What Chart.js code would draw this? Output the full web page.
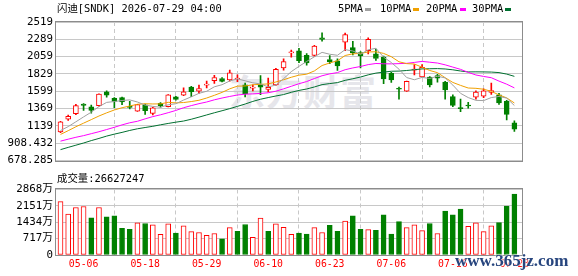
<!DOCTYPE html>
<html><head><meta charset="utf-8">
<script src="https://cdn.jsdelivr.net/npm/chart.js@4.4.1/dist/chart.umd.min.js"></script>
<style>
html,body{margin:0;padding:0;background:#fff;width:578px;height:276px;overflow:hidden;position:relative;}
canvas{position:absolute;left:0;}
.t{position:absolute;white-space:nowrap;font-family:"DejaVu Sans Mono","Noto Sans CJK SC",monospace;font-size:10.4px;color:#000;line-height:12px;}
.sw{position:absolute;width:6px;height:3px;}
.wm{position:absolute;left:229px;top:70px;font-family:"Noto Sans CJK SC";font-weight:700;font-size:36px;line-height:40px;color:#e6e6eb;letter-spacing:1px;white-space:nowrap;}
.site{position:absolute;left:455px;top:252px;font-family:"Liberation Serif",serif;font-weight:700;font-size:17px;line-height:18px;color:#27457e;white-space:nowrap;text-shadow:0 0 2px #fff,0 0 2px #fff;}
</style></head>
<body>
<div class="wm">东方财富</div>
<canvas id="price" width="578" height="170" style="top:0px"></canvas>
<canvas id="vol" width="578" height="96" style="top:180px"></canvas>
<div class="t" style="left:57px;top:2px">闪迪[SNDK] 2026-07-29 04:00</div>
<div class="t" style="left:338px;top:2px">5PMA</div><div class="sw" style="left:365px;top:8px;background:#a0a0a0"></div>
<div class="t" style="left:380px;top:2px">10PMA</div><div class="sw" style="left:413px;top:8px;background:#f0a000"></div>
<div class="t" style="left:426px;top:2px">20PMA</div><div class="sw" style="left:460px;top:8px;background:#ff00ff"></div>
<div class="t" style="left:472px;top:2px">30PMA</div><div class="sw" style="left:505px;top:8px;background:#007030"></div>
<div class="t" style="left:57px;top:172px">成交量:26627247</div>
<div class="site">www.365jz.com</div>
<script>
// ---- data ----
const dates = ['05-01','05-04','05-05','05-06','05-07','05-08','05-11','05-12','05-13','05-14','05-15','05-18','05-19','05-20','05-21','05-22','05-26','05-27','05-28','05-29','06-01','06-02','06-03','06-04','06-05','06-08','06-09','06-10','06-11','06-12','06-15','06-16','06-17','06-18','06-22','06-23','06-24','06-25','06-26','06-29','06-30','07-01','07-02','07-06','07-07','07-08','07-09','07-10','07-13','07-14','07-15','07-16','07-17','07-20','07-21','07-22','07-23','07-24','07-27','07-28'];
const open  = [1060,1228,1300,1430,1393,1408,1592,1506,1515,1394,1335,1419,1305,1438,1395,1524,1547,1653,1599,1680,1738,1769,1751,1762,1683,1640,1695,1622,1683,1910,2110,2137,2078,2075,2310,2021,2004,2253,2178,2114,2137,2095,2052,1837,1635,1601,1880,1790,1786,1807,1721,1528,1377,1412,1519,1532,1584,1550,1464,1180];
const high  = [1200,1283,1425,1435,1416,1565,1605,1515,1522,1464,1425,1429,1385,1450,1555,1530,1644,1663,1680,1734,1811,1780,1880,1818,1708,1683,1807,1773,1902,2030,2146,2168,2100,2211,2374,2073,2030,2372,2262,2125,2310,2159,2065,1850,1653,1735,1953,1953,1795,1824,1730,1550,1496,1451,1605,1631,1708,1573,1477,1206];
const low   = [1050,1210,1287,1345,1309,1400,1519,1380,1419,1365,1330,1292,1283,1386,1390,1480,1541,1528,1570,1644,1702,1722,1734,1728,1522,1605,1554,1589,1675,1880,2052,1979,1946,2065,2266,1966,1876,2137,2082,1910,2095,2008,1699,1717,1493,1598,1815,1785,1657,1721,1493,1393,1328,1374,1493,1515,1558,1425,1219,1065];
const close = [1193,1267,1408,1412,1344,1560,1547,1464,1458,1385,1421,1341,1380,1403,1550,1489,1590,1593,1635,1690,1782,1730,1843,1770,1567,1645,1653,1650,1889,1992,2115,2004,1975,2198,2288,1988,1936,2352,2107,2069,2288,2034,1764,1751,1625,1730,1890,1918,1683,1773,1618,1412,1367,1403,1589,1605,1609,1444,1292,1094];
const ma5  = [1077,1129,1193,1258,1321,1395,1451,1462,1476,1484,1456,1415,1398,1386,1419,1433,1482,1525,1571,1599,1658,1686,1736,1763,1738,1711,1696,1657,1681,1766,1860,1930,1995,2057,2116,2091,2077,2152,2134,2090,2150,2170,2052,1981,1892,1781,1752,1783,1769,1799,1776,1681,1571,1515,1478,1475,1515,1530,1508,1409];
const ma10 = [1025,1075,1127,1175,1222,1270,1312,1350,1380,1403,1426,1433,1430,1431,1452,1444,1449,1462,1479,1509,1545,1584,1631,1667,1669,1685,1691,1697,1722,1752,1785,1813,1826,1869,1941,1975,2004,2074,2096,2103,2121,2124,2102,2058,1991,1966,1961,1918,1875,1846,1779,1716,1677,1642,1638,1626,1598,1550,1511,1443];
const ma20 = [936,962,987,1009,1035,1061,1090,1120,1152,1180,1200,1232,1262,1286,1314,1344,1380,1408,1434,1456,1485,1509,1530,1549,1560,1564,1570,1579,1600,1631,1665,1699,1728,1768,1805,1830,1847,1885,1909,1928,1953,1968,1964,1963,1966,1970,1982,1996,1985,1974,1950,1920,1890,1850,1815,1796,1779,1734,1693,1644];
const ma30 = [823,853,882,911,943,972,1003,1029,1052,1078,1100,1117,1133,1153,1171,1188,1203,1227,1255,1284,1313,1340,1368,1398,1429,1464,1493,1515,1536,1555,1585,1610,1629,1656,1687,1701,1714,1744,1765,1788,1817,1840,1853,1865,1867,1875,1885,1896,1898,1900,1895,1884,1868,1856,1857,1856,1854,1847,1827,1797];
const volume = [2334,1786,2081,2123,1631,2081,1673,1715,1167,1125,1406,1378,1322,900,1364,956,1279,1026,984,858,942,703,1195,1040,1336,773,1617,1040,1364,1209,907,956,914,1195,984,1294,1040,1490,1715,1125,1111,1083,1758,914,1462,1195,1322,1069,1378,942,1926,1758,2011,1251,1406,1026,1279,1420,2137,2663];
const labelIdx = [3,11,19,27,35,43,51,59];
const priceTicks = [678.285,908.432,1138.579,1368.726,1598.873,1829.02,2059.167,2289.314,2519.461];
const priceTickLabels = ['678.285','908.432','1139','1369','1599','1829','2059','2289','2519'];
const volTicks = [0,717,1434,2151,2868];
const volTickLabels = ['0','717万','1434万','2151万','2868万'];

// ---- styling ----
const RED = '#ff0000', GREEN = '#008000';
const up = i => close[i] >= open[i];
const volUp = i => i === 0 ? up(0) : close[i] >= close[i-1];
const monoFont = '"DejaVu Sans Mono", monospace';
const X_MIN = -0.585, X_MAX = 59.99;

const framePlugin = {
  id: 'frame',
  afterDraw(chart) {
    const {ctx, chartArea: a} = chart;
    ctx.save();
    ctx.strokeStyle = '#8c8c8c';
    ctx.lineWidth = 1;
    ctx.strokeRect(Math.round(a.left) - 0.5, Math.round(a.top) - 0.5,
                   Math.round(a.right) - Math.round(a.left) + 1, Math.round(a.bottom) - Math.round(a.top) + 1);
    ctx.restore();
  }
};

function xScale(showLabels) {
  return {
    type: 'linear', min: X_MIN, max: X_MAX, offset: false,
    afterBuildTicks: s => { s.ticks = labelIdx.map(v => ({value: v})); },
    ticks: {
      display: showLabels, autoSkip: false, maxRotation: 0, padding: 4,
      color: RED, font: {family: monoFont, size: 9.8},
      callback: v => dates[v]
    },
    grid: {color: '#c8c8c8', lineWidth: 1, drawTicks: false},
    border: {display: false, dash: [4, 3]},
    afterFit: s => { s.height = showLabels ? 21 : 0; }
  };
}

function yScale(min, max, ticks, labels) {
  return {
    type: 'linear', min, max,
    afterBuildTicks: s => { s.ticks = ticks.map(v => ({value: v})); },
    ticks: {autoSkip: false, padding: 3, color: '#000', font: {family: monoFont + ', "Noto Sans CJK SC"', size: 10.8},
            callback: (v, i) => labels[i]},
    grid: {color: '#c8c8c8', lineWidth: 1, drawTicks: false},
    border: {display: false},
    afterFit: s => { s.width = 56; }
  };
}

const maLine = (label, arr, color) => ({
  type: 'line', label, data: arr.map((v, i) => ({x: i, y: v})),
  borderColor: color, borderWidth: 1, pointRadius: 0, tension: 0, fill: false, order: -1
});

new Chart(document.getElementById('price'), {
  type: 'bar',
  data: {
    datasets: [
      maLine('5PMA', ma5, '#a0a0a0'),
      maLine('10PMA', ma10, '#f0a000'),
      maLine('20PMA', ma20, '#ff00ff'),
      maLine('30PMA', ma30, '#007030'),
      {
        label: 'body', data: open.map((o, i) => ({x: i, y: [o, close[i]]})),
        backgroundColor: c => up(c.dataIndex) ? '#ffffff' : GREEN,
        borderColor: c => up(c.dataIndex) ? RED : GREEN,
        borderWidth: 1, borderSkipped: false, barThickness: 5, minBarLength: 1, grouped: false, order: 1
      },
      {
        label: 'wickLow', data: low.map((l, i) => ({x: i, y: [l, Math.min(open[i], close[i])]})),
        backgroundColor: c => up(c.dataIndex) ? RED : GREEN,
        borderWidth: 0, barThickness: 1, grouped: false, order: 2
      },
      {
        label: 'wickHigh', data: high.map((h, i) => ({x: i, y: [Math.max(open[i], close[i]), h]})),
        backgroundColor: c => up(c.dataIndex) ? RED : GREEN,
        borderWidth: 0, barThickness: 1, grouped: false, order: 2
      }
    ]
  },
  options: {
    responsive: false, animation: false, devicePixelRatio: 1,
    layout: {padding: {left: 0, right: 56, top: 22, bottom: 5.5}},
    plugins: {legend: {display: false}, tooltip: {enabled: false}},
    scales: {
      x: xScale(false),
      y: yScale(priceTicks[0], priceTicks[priceTicks.length - 1], priceTicks, priceTickLabels)
    }
  },
  plugins: [framePlugin]
});

new Chart(document.getElementById('vol'), {
  type: 'bar',
  data: {
    datasets: [{
      label: '成交量', data: volume.map((v, i) => ({x: i, y: v})),
      backgroundColor: c => volUp(c.dataIndex) ? '#ffffff' : GREEN,
      borderColor: c => volUp(c.dataIndex) ? RED : GREEN,
      borderWidth: 1, borderSkipped: false, barThickness: 5, grouped: false
    }]
  },
  options: {
    responsive: false, animation: false, devicePixelRatio: 1,
    layout: {padding: {left: 0, right: 56, top: 7, bottom: 0}},
    plugins: {legend: {display: false}, tooltip: {enabled: false}},
    scales: {
      x: xScale(true),
      y: yScale(0, 2868, volTicks, volTickLabels)
    }
  },
  plugins: [framePlugin]
});
</script>
</body></html>
